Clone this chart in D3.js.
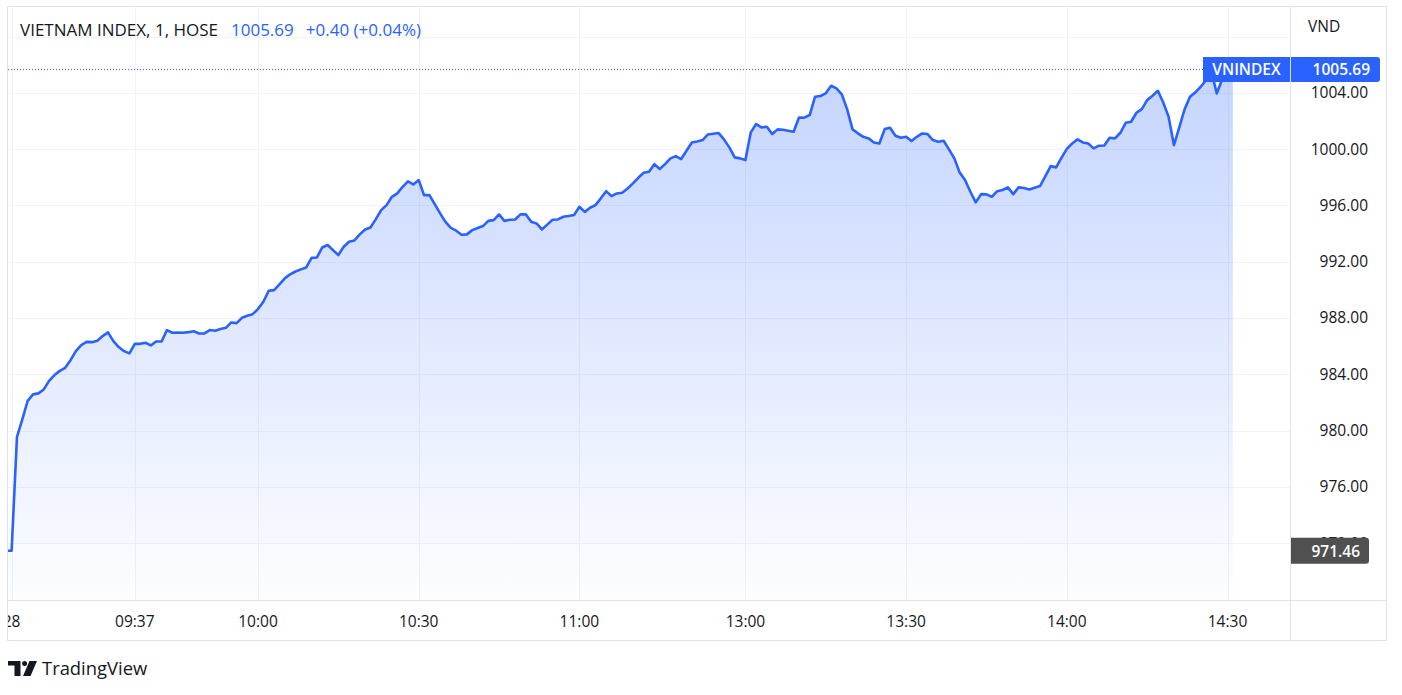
<!DOCTYPE html>
<html><head><meta charset="utf-8">
<script src="https://cdn.jsdelivr.net/npm/d3@7"></script>
<style>
html,body{margin:0;padding:0;background:#fff;}
svg{display:block;}
text{font-family:"Open Sans","Noto Sans",Roboto,sans-serif;}
</style></head>
<body>
<svg id="chart" width="1402" height="695"></svg>
<script>
// ---------------- data ----------------
const symbolTitle = "VIETNAM INDEX, 1, HOSE";
const lastPrice = 1005.69;
const changeText = "+0.40 (+0.04%)";
const seriesName = "VNINDEX";
const currency = "VND";
const prevClose = 971.46;          // close carried into the session (bars before 09:15)
const dayLabel = "28";

// 1-minute closes, morning session starting 09:15
const morningValues = [
  979.55, 980.8, 982.11, 982.57, 982.64, 982.92, 983.53, 983.94, 984.24, 984.46,
  985.0, 985.64, 986.07, 986.3, 986.28, 986.38, 986.71, 986.97, 986.35, 985.93,
  985.64, 985.48, 986.16, 986.16, 986.24, 986.05, 986.33, 986.33, 987.14, 986.95,
  986.97, 986.95, 986.99, 987.06, 986.9, 986.9, 987.14, 987.09, 987.21, 987.3,
  987.68, 987.63, 988.01, 988.15, 988.27, 988.63, 989.15, 989.93, 989.98, 990.38,
  990.81, 991.1, 991.3, 991.45, 991.59, 992.27, 992.3, 993.01, 993.18, 992.82,
  992.47, 993.06, 993.41, 993.51, 993.94, 994.29, 994.43, 995.02, 995.66, 996.02,
  996.61, 996.85, 997.32, 997.7, 997.49, 997.8, 996.73, 996.73, 996.09, 995.43,
  994.83, 994.4, 994.2, 993.91, 993.94, 994.24, 994.39, 994.53, 994.9, 994.95,
  995.36, 994.9, 994.98, 995.0, 995.36, 995.36, 994.83, 994.72, 994.29, 994.63,
  994.98, 995.0, 995.19, 995.24, 995.31, 995.9, 995.54, 995.83, 996.02, 996.5,
  997.01, 996.66, 996.85, 996.9, 997.2, 997.56, 997.96, 998.32, 998.39, 998.93,
  998.58, 998.93, 999.34, 999.5, 999.29, 999.88, 1000.47, 1000.54, 1000.64, 1001.04,
  1001.09, 1001.14, 1000.69, 1000.12, 999.41, 999.34
];
// 1-minute closes, afternoon session starting 13:00
const afternoonValues = [
  999.22, 1001.19, 1001.78, 1001.54, 1001.59, 1001.07, 1001.4, 1001.37, 1001.3, 1001.23,
  1002.25, 1002.23, 1002.42, 1003.72, 1003.77, 1003.96, 1004.5, 1004.31, 1003.89, 1002.82,
  1001.4, 1001.12, 1000.87, 1000.76, 1000.47, 1000.4, 1001.42, 1001.51, 1000.95, 1000.8,
  1000.87, 1000.57, 1000.87, 1001.11, 1001.07, 1000.64, 1000.52, 1000.59, 999.98, 999.34,
  998.34, 997.8, 996.97, 996.21, 996.8, 996.78, 996.61, 997.01, 997.09, 997.28,
  996.8, 997.28, 997.23, 997.13, 997.25, 997.37, 998.08, 998.79, 998.7, 999.38,
  1000.02, 1000.4, 1000.69, 1000.47, 1000.4, 1000.05, 1000.24, 1000.26, 1000.8, 1000.76,
  1001.16, 1001.87, 1001.94, 1002.58, 1002.84, 1003.48, 1003.79, 1004.14, 1003.31, 1002.3,
  1000.28, 1001.54, 1002.84, 1003.72, 1004.03, 1004.43, 1004.9, 1005.5, 1003.96, 1004.95,
  1005.5
];
// closing auction bar (14:45)
const atcValues = [1005.69];

const sessions = [
  {start: "09:15", values: morningValues},
  {start: "13:00", values: afternoonValues},
  {start: "14:45", values: atcValues}
];

const xTickTimes  = [null, "09:37", "10:00", "10:30", "11:00", "13:00", "13:30", "14:00", "14:30"];
const xTickLabels = [dayLabel, "09:37", "10:00", "10:30", "11:00", "13:00", "13:30", "14:00", "14:30"];
const yTickValues = [972, 976, 980, 984, 988, 992, 996, 1000, 1004];
const yGridValues = [972, 976, 980, 984, 988, 992, 996, 1000, 1004, 1008];

// ---------------- build bars ----------------
function toMin(t){ const [h,m] = t.split(":").map(Number); return h*60+m; }
const bars = [];
// two bars carried from before the session (previous close)
bars.push({i:-2, time:"prev", v:prevClose});
bars.push({i:-1, time:"open", v:prevClose});
let idx = 0;
sessions.forEach(s => {
  const s0 = toMin(s.start);
  s.values.forEach((v,k) => {
    const m = s0 + k;
    const t = String(Math.floor(m/60)).padStart(2,"0") + ":" + String(m%60).padStart(2,"0");
    bars.push({i: idx, time: t, v: v});
    idx++;
  });
});
const timeIndex = new Map(bars.map(b => [b.time, b.i]));

// ---------------- layout ----------------
const svg = d3.select("#chart");
const frame = {l: 7.5, t: 6.5, r: 1386.5, b: 640.5};
const plot = {l: 8, t: 7, r: 1290.5, b: 600.5};

const x = d3.scaleLinear()
  .domain([timeIndex.get("10:00"), timeIndex.get("14:30")])
  .range([258, 1227.5]);
const y = d3.scaleLinear().domain([972, 1004]).range([543.1, 92.8]);

const textColor = "#131722";
const blue = "#2962FF";
const gridColor = "#f0f3fa";
const borderColor = "#e0e3eb";

const defs = svg.append("defs");
defs.append("clipPath").attr("id","plotClip")
  .append("rect").attr("x",plot.l).attr("y",plot.t)
  .attr("width",plot.r-plot.l).attr("height",plot.b-plot.t);

const maxV = d3.max(bars, d => d.v);
const grad = defs.append("linearGradient").attr("id","areaGrad")
  .attr("gradientUnits","userSpaceOnUse")
  .attr("x1",0).attr("x2",0).attr("y1",y(maxV)).attr("y2",plot.b);
grad.append("stop").attr("offset","0").attr("stop-color",blue).attr("stop-opacity",0.27);
grad.append("stop").attr("offset","1").attr("stop-color",blue).attr("stop-opacity",0.01);

// grid
const grid = svg.append("g").attr("clip-path","url(#plotClip)");
grid.selectAll("line.h").data(yGridValues).join("line")
  .attr("x1",plot.l).attr("x2",plot.r)
  .attr("y1",d=>Math.round(y(d))+0.5).attr("y2",d=>Math.round(y(d))+0.5)
  .attr("stroke",gridColor).attr("stroke-width",1);
const xTicks = xTickTimes.map((t,k) => ({i: t===null ? -1 : timeIndex.get(t), label: xTickLabels[k]}));
grid.selectAll("line.v").data(xTicks).join("line")
  .attr("x1",d=>Math.round(x(d.i))+0.5).attr("x2",d=>Math.round(x(d.i))+0.5)
  .attr("y1",plot.t).attr("y2",plot.b)
  .attr("stroke",gridColor).attr("stroke-width",1);

// area + line
const series = svg.append("g").attr("clip-path","url(#plotClip)");
series.append("path").datum(bars)
  .attr("d", d3.area().x(d=>x(d.i)).y0(plot.b).y1(d=>y(d.v)))
  .attr("fill","url(#areaGrad)");
series.append("path").datum(bars)
  .attr("d", d3.line().x(d=>x(d.i)).y(d=>y(d.v)))
  .attr("fill","none").attr("stroke",blue).attr("stroke-width",2.6)
  .attr("stroke-linejoin","round").attr("stroke-linecap","round");

// last price dotted line
const yLast = Math.round(y(lastPrice))+0.5;
svg.append("line").attr("x1",plot.l).attr("x2",1203).attr("y1",yLast).attr("y2",yLast)
  .attr("stroke",blue).attr("stroke-width",1).attr("stroke-dasharray","1 2");

// frame & separators
svg.append("rect").attr("x",frame.l).attr("y",frame.t)
  .attr("width",frame.r-frame.l).attr("height",frame.b-frame.t)
  .attr("fill","none").attr("stroke",borderColor);
svg.append("line").attr("x1",plot.r).attr("x2",plot.r).attr("y1",frame.t).attr("y2",frame.b)
  .attr("stroke",borderColor);
svg.append("line").attr("x1",frame.l).attr("x2",frame.r).attr("y1",plot.b).attr("y2",plot.b)
  .attr("stroke",borderColor);

// y axis labels
const fmt = d3.format(".2f");
svg.append("g").selectAll("text").data(yTickValues).join("text")
  .attr("x",1368).attr("y",d=>y(d)+5.5)
  .attr("text-anchor","end").attr("font-size",15.5).attr("fill",textColor)
  .text(d=>fmt(d));
svg.append("text").attr("x",1308).attr("y",32).attr("font-size",15.5).attr("fill",textColor).text(currency);

// x axis labels
const xl = svg.append("g");
xl.append("clipPath").attr("id","xClip").append("rect")
  .attr("x",plot.l).attr("y",plot.b).attr("width",plot.r-plot.l).attr("height",frame.b-plot.b);
xl.append("g").attr("clip-path","url(#xClip)").selectAll("text").data(xTicks).join("text")
  .attr("x",d=>x(d.i)).attr("y",627)
  .attr("text-anchor","middle").attr("font-size",15.5).attr("fill",textColor)
  .text(d=>d.label);

// last-price labels
svg.append("rect").attr("x",1203).attr("y",57).attr("width",87).attr("height",25).attr("fill",blue);
svg.append("text").attr("x",1246.5).attr("y",75).attr("text-anchor","middle")
  .attr("font-size",15.5).attr("font-weight",600).attr("fill","#fff").text(seriesName);
svg.append("path")
  .attr("d","M1291,57 H1377 a3,3 0 0 1 3,3 V79 a3,3 0 0 1 -3,3 H1291 Z").attr("fill",blue);
svg.append("text").attr("x",1370).attr("y",75).attr("text-anchor","end")
  .attr("font-size",15.5).attr("font-weight",600).attr("fill","#fff").text(fmt(lastPrice));

// previous close label (drawn over the partly hidden 972.00 tick, as in TradingView)
const yPrev = y(prevClose);
svg.append("path")
  .attr("d",`M1291,${yPrev-13} H1366 a3,3 0 0 1 3,3 V${yPrev+10} a3,3 0 0 1 -3,3 H1291 Z`)
  .attr("fill","#505050");
svg.append("text").attr("x",1360).attr("y",yPrev+6).attr("text-anchor","end")
  .attr("font-size",15.5).attr("font-weight",600).attr("fill","#fff").text(fmt(prevClose));

// header legend
const hdr = svg.append("text").attr("x",20).attr("y",36).attr("font-size",17);
hdr.append("tspan").attr("fill",textColor).text(symbolTitle);
hdr.append("tspan").attr("dx",13).attr("fill",blue).text(fmt(lastPrice));
hdr.append("tspan").attr("dx",12).attr("fill",blue).text(changeText);

// TradingView logo
const logo = svg.append("g").attr("fill",textColor);
logo.append("path").attr("d","M8,661 H20.5 V676 H14.5 V665.5 H8 Z");
logo.append("circle").attr("cx",24.6).attr("cy",663.4).attr("r",2.5);
logo.append("path").attr("d","M29.5,661 H37 L30.5,676 H23 Z");
svg.append("text").attr("x",42).attr("y",675).attr("font-size",18.4).attr("fill",textColor)
  .text("TradingView");
</script>
</body></html>
